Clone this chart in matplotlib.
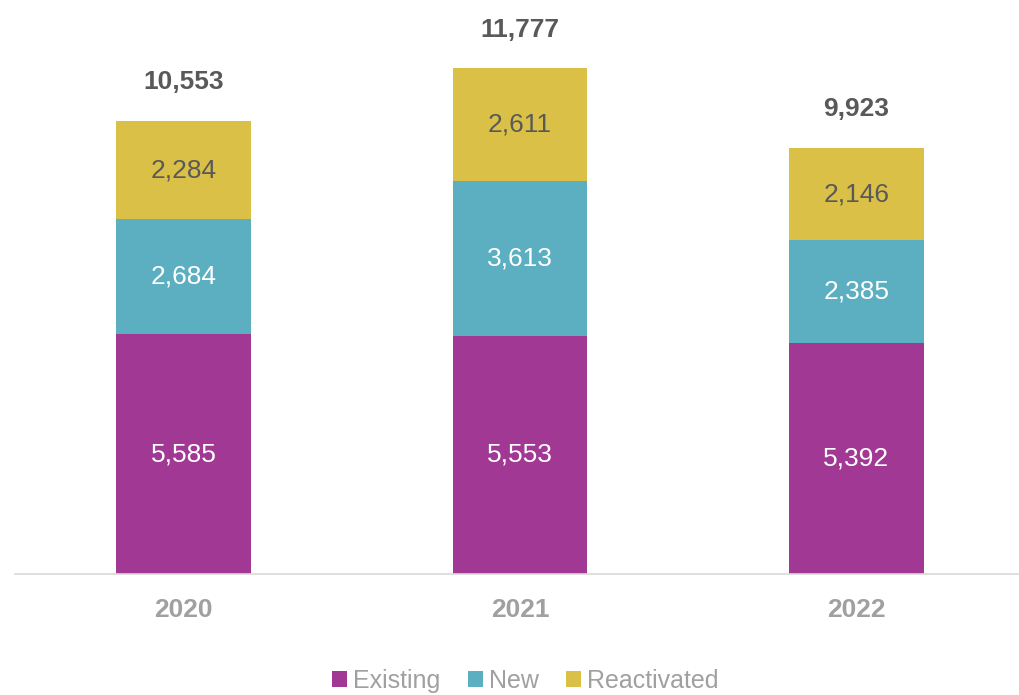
import matplotlib.pyplot as plt
import numpy as np

plt.rcParams['font.family'] = ['Liberation Sans', 'DejaVu Sans']

years = ['2020', '2021', '2022']
existing = [5585, 5553, 5392]
new = [2684, 3613, 2385]
reactivated = [2284, 2611, 2146]
totals = [10553, 11777, 9923]

c_exist = '#A03894'
c_new = '#5BAFC0'
c_react = '#DBC048'
grey_txt = '#595959'

fig = plt.figure(figsize=(10.2, 6.95), dpi=100)
ax = fig.add_axes([15.25/1020, 121/695, 1009.5/1020, 558/695])

x = np.arange(len(years))
w = 0.401
b1 = ax.bar(x, existing, w, color=c_exist, label='Existing')
b2 = ax.bar(x, new, w, bottom=existing, color=c_new, label='New')
bot3 = [a + b for a, b in zip(existing, new)]
b3 = ax.bar(x, reactivated, w, bottom=bot3, color=c_react, label='Reactivated')

# segment labels
for i in range(len(years)):
    ax.text(x[i], existing[i] / 2, f'{existing[i]:,}', ha='center', va='center',
            color='white', fontsize=19)
    ax.text(x[i], existing[i] + new[i] / 2, f'{new[i]:,}', ha='center', va='center',
            color='white', fontsize=19)
    ax.text(x[i], bot3[i] + reactivated[i] / 2, f'{reactivated[i]:,}', ha='center',
            va='center', color=grey_txt, fontsize=19)
    ax.annotate(f'{totals[i]:,}', (x[i], bot3[i] + reactivated[i]), xytext=(0, 28),
                textcoords='offset points', ha='center', va='center',
                color=grey_txt, fontsize=19, fontweight='bold')

ax.set_xlim(-0.5, 2.5)
ax.set_ylim(0, 13000)
ax.set_xticks(x)
ax.set_xticklabels(years, fontsize=19, fontweight='bold', color='#A0A0A0')
ax.tick_params(axis='x', length=0, pad=17)
ax.set_yticks([])
for s in ['top', 'right', 'left']:
    ax.spines[s].set_visible(False)
ax.spines['bottom'].set_color('#D9D9D9')
ax.spines['bottom'].set_linewidth(1.2)

fig.legend(handles=[b1, b2, b3], loc='center', bbox_to_anchor=(0.515, 0.02),
           ncol=3, frameon=False, fontsize=18, labelcolor='#A0A0A0',
           handlelength=0.6, handleheight=0.6, handletextpad=0.25, columnspacing=1.1)

fig.savefig('out.png', dpi=100)
